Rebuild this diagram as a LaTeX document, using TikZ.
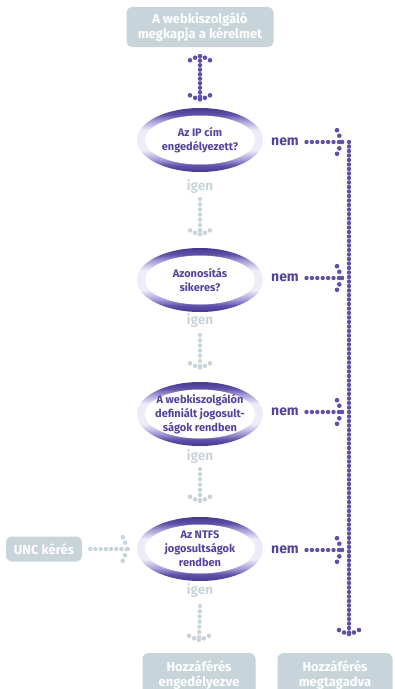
\documentclass[tikz,border=0pt]{standalone}
\usepackage{fontspec}
\setmainfont{Fira Sans}
\usetikzlibrary{shapes.geometric}
\definecolor{pur}{HTML}{5E51A8}
\definecolor{purtxt}{HTML}{51449A}
\definecolor{purdark}{HTML}{463891}
\definecolor{purmid}{HTML}{A79FD8}
\definecolor{lav}{HTML}{EEECF8}
\definecolor{boxc}{HTML}{C7D4DA}
\definecolor{greyc}{HTML}{C8D4DA}
\pgfdeclareverticalshading{ringshade}{100bp}{color(0bp)=(purdark); color(25bp)=(purdark); color(30bp)=(pur); color(35bp)=(purmid); color(42bp)=(lav); color(50bp)=(lav); color(58bp)=(lav); color(65bp)=(purmid); color(70bp)=(pur); color(75bp)=(purdark); color(100bp)=(purdark)}
\tikzset{
  vhead/.pic={\foreach \a/\b in {0/0,-1.5/4.9,-1.5/-4.9,-4/10,-4/-10}\fill (\a,\b) circle (2.3pt);},
  hhead/.pic={\foreach \a/\b in {0/0,-2.7/6.3,-2.7/-6.3,-5/11.8,-5/-11.8}\fill (\a,\b) circle (2.3pt);},
}
\begin{document}
\begin{tikzpicture}[x=1pt,y=-1pt,
  dotl/.style={line width=4.4pt,line cap=round,dash pattern=on 0pt off #1},
  dotl/.default=4.5pt,
  box/.style={rounded corners=6pt,fill=boxc,text=white,font=\bfseries\fontsize{13}{15}\selectfont,align=center,inner sep=0pt},
  ring/.style={ellipse,minimum width=126pt,minimum height=64pt,inner sep=0pt,
    shading=ringshade,
    path picture={\fill[white] (path picture bounding box.center) ellipse (55pt and 24.5pt);}},
  etext/.style={text=purtxt,font=\bfseries\fontsize{11}{14}\selectfont,align=center,inner sep=0pt},
  nemt/.style={text=purtxt,font=\bfseries\fontsize{14}{16}\selectfont,inner sep=0pt},
  igent/.style={text=greyc,font=\bfseries\fontsize{13.5}{15}\selectfont,inner sep=0pt},
]
\useasboundingbox (0,0) rectangle (395,689);
% boxes
\node[box,minimum width=147pt,minimum height=40pt] (req) at (200,27) {A webkiszolgáló\\megkapja a kérelmet};
\node[box,minimum width=76pt,minimum height=25pt] (unc) at (44,549) {UNC kérés};
\node[box,minimum width=113pt,minimum height=44pt] (ok) at (199,675) {Hozzáférés\\engedélyezve};
\node[box,minimum width=115pt,minimum height=44pt] (deny) at (335,675) {Hozzáférés\\megtagadva};
% decisions
\node[ring] (e1) at (200,140) {};
\node[etext] (t1) at (e1) {Az IP cím\\engedélyezett?};
\node[ring] (e2) at (200,280) {};
\node[etext] (t2) at (e2) {Azonosítás\\sikeres?};
\node[ring] (e3) at (200,414) {};
\node[etext] (t3) at (e3) {A webkiszolgálón\\definiált jogosult-\\ságok rendben};
\node[ring] (e4) at (200,549) {};
\node[etext] (t4) at (e4) {Az NTFS\\jogosultságok\\rendben};
% labels
\node[nemt] (n1) at (285,142) {nem};
\node[nemt] (n2) at (285,278) {nem};
\node[nemt] (n3) at (285,412) {nem};
\node[nemt] (n4) at (285,550) {nem};
\node[igent] (i1) at (200,187) {igen};
\node[igent] (i2) at (200,321) {igen};
\node[igent] (i3) at (200,457) {igen};
\node[igent] (i4) at (200,591) {igen};
% coordinates
\coordinate (vtop) at (349,142);
\coordinate (vbot) at (349,634);
\coordinate (j1) at (342,142);
\coordinate (j2) at (342,278);
\coordinate (j3) at (342,412);
\coordinate (j4) at (342,550);
% top double arrow
\draw[dotl,pur] ([yshift=-9pt]req.south) -- ([yshift=8.5pt]e1.north);
\pic[pur,rotate=90] at ([yshift=-9pt]req.south) {vhead};
\pic[pur,rotate=-90] at ([yshift=8.5pt]e1.north) {vhead};
% nem arrows
\foreach \k in {1,2,3,4}{
  \draw[dotl=5.4pt,pur] ([xshift=7.5pt]n\k.east) -- (j\k);
  \pic[pur] at (j\k) {hhead};
}
\draw[dotl,pur] (vtop) -- (vbot);
\pic[pur,rotate=-90] at (vbot) {vhead};
% igen arrows
\draw[dotl=5.2pt,greyc] ([yshift=-12pt]i1.center) -- ([yshift=13.5pt]e2.north);
\pic[greyc,rotate=-90] at ([yshift=13.5pt]e2.north) {vhead};
\draw[dotl=5.2pt,greyc] ([yshift=-14pt]i2.center) -- ([yshift=14.5pt]e3.north);
\pic[greyc,rotate=-90] at ([yshift=14.5pt]e3.north) {vhead};
\draw[dotl=5.2pt,greyc] ([yshift=-12pt]i3.center) -- ([yshift=16pt]e4.north);
\pic[greyc,rotate=-90] at ([yshift=16pt]e4.north) {vhead};
\draw[dotl=5.2pt,greyc] ([yshift=-15pt]i4.center) -- ([yshift=13pt]ok.north);
\pic[greyc,rotate=-90] at ([yshift=13pt]ok.north) {vhead};
% UNC arrow
\draw[dotl=5.2pt,greyc] ([xshift=8pt]unc.east) -- ([xshift=-9pt]e4.west);
\pic[greyc] at ([xshift=-9pt]e4.west) {hhead};
\end{tikzpicture}
\end{document}
